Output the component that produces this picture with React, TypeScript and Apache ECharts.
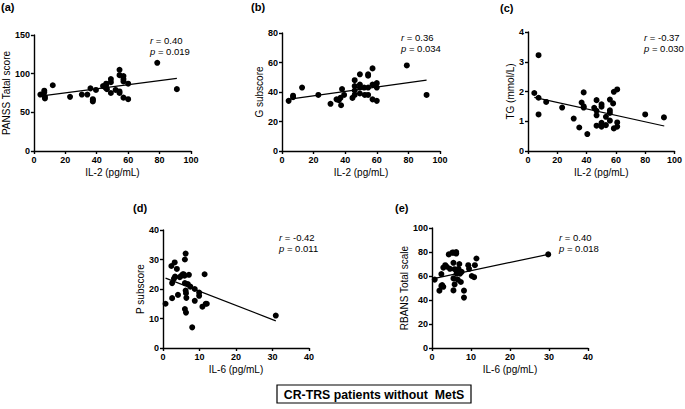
import React, { useEffect, useRef } from "react";
import * as echarts from "echarts";

// Panel (a): IL-2 vs PANSS total score
const il2A = [4.1, 6.6, 6.6, 7, 7, 12, 23, 30.5, 34, 36, 37.5, 37.5, 37.5, 39.5, 44, 45.5, 46, 46.5, 46, 49, 49, 49, 52, 54.5, 54.5, 54.5, 54.5, 57, 57, 57, 57, 60, 60, 78.5, 91];
const panssA = [73, 78, 76, 70, 68, 85, 70, 73, 73, 81, 67, 64, 66, 79, 84, 82, 87, 80, 85, 93, 89, 75, 79, 105, 98, 77, 75, 97, 93, 90, 69, 87, 67, 114, 80];
const fitAX = [4, 91];
const fitAY = [71, 94];

// Panel (b): IL-2 vs G subscore
const il2B = [4.2, 7, 7, 12.7, 23, 30.7, 34.5, 36, 37, 37.4, 38, 39.3, 44.6, 46, 46, 46, 46, 49.3, 49.3, 49.3, 49.3, 52, 52.4, 54.5, 54.5, 54.5, 54.5, 57.3, 57.3, 57.3, 60, 60, 60, 79, 91.5];
const gB = [34, 36.5, 37.5, 43, 38, 32, 35, 34.5, 36, 31, 42, 38, 36, 48, 44, 41, 38, 52, 45, 43, 39, 43, 38, 51, 52, 43, 38, 56, 45, 35, 46, 43, 34, 58, 38];
const fitBX = [3.8, 91.5];
const fitBY = [35, 48];

// Panel (c): IL-2 vs TG
const il2C = [4.3, 7.2, 7.2, 7.2, 12.4, 23.3, 31.2, 35, 36.6, 38, 38, 38, 40.5, 45.2, 46.8, 46.8, 46.8, 46.8, 50.2, 50.2, 50.2, 50.2, 50.2, 53.2, 53.2, 55.9, 55.9, 55.9, 55.9, 58.1, 58.6, 58.6, 60.9, 60.9, 60.9, 80, 92.8];
const tgC = [1.95, 3.22, 1.79, 1.23, 1.65, 1.46, 1.09, 0.79, 1.63, 1.97, 1.46, 1.5, 0.57, 1.45, 1.71, 1.35, 1.2, 0.85, 1.57, 1.49, 0.95, 0.87, 0.82, 1.15, 0.87, 1.73, 1.37, 1.28, 1.02, 1.6, 1.99, 0.76, 2.07, 0.96, 0.82, 1.23, 1.13];
const fitCX = [4.3, 93];
const fitCY = [1.8, 0.84];

// Panel (d): IL-6 vs P subscore
const il6D = [0.7, 2.3, 2.5, 2.5, 3.0, 3.3, 3.2, 3.8, 4.1, 4.6, 5.0, 5.4, 5.7, 5.9, 6.2, 6.0, 6.0, 6.2, 6.3, 6.4, 6.0, 6.3, 6.8, 7.1, 7.5, 8.0, 8.7, 8.7, 9.9, 9.9, 10.8, 11.4, 11.7, 12.0, 30.9];
const pD = [15, 27.8, 22, 16.9, 23.5, 24.2, 29, 26.8, 18, 24, 24.5, 25, 25, 24.5, 32, 30, 22, 19.5, 18.6, 17, 13.2, 12, 21.7, 24.8, 20.8, 7, 20, 16, 18.8, 17.7, 14, 25, 15, 15, 11];
const fitDX = [0.7, 30.9];
const fitDY = [23.7, 9.2];

// Panel (e): IL-6 vs RBANS total scale
const il6E = [0.7, 1.9, 2.4, 2.6, 2.4, 2.9, 2.9, 3.4, 3.8, 4.3, 4.6, 5.2, 5.5, 5.5, 5.5, 5.5, 5.8, 6.2, 6.2, 5.8, 6.3, 6.5, 6.8, 6.6, 7.0, 7.2, 7.6, 7.4, 8.2, 8.2, 9.3, 9.5, 10.2, 10.8, 11.0, 11.4, 29.8];
const rbansE = [57, 47.8, 51.7, 52.5, 61.6, 51, 67, 69, 67.7, 78, 66, 79.5, 79.5, 71, 58, 48, 65.7, 80, 78.7, 53, 62, 64, 66, 57, 70, 62, 63.5, 55, 47.8, 42, 69, 66, 60, 59, 69, 74.6, 78];
const fitEX = [0.7, 29.8];
const fitEY = [58, 78];

const panelLabels = ["(a)", "(b)", "(c)", "(d)", "(e)"];
const rValues = ["0.40", "0.36", "-0.37", "-0.42", "0.40"];
const pValues = ["0.019", "0.034", "0.030", "0.011", "0.018"];
const xNames = ["IL-2 (pg/mL)", "IL-2 (pg/mL)", "IL-2 (pg/mL)", "IL-6 (pg/mL)", "IL-6 (pg/mL)"];
const yNames = ["PANSS Tatal score", "G subscore", "TG (mmol/L)", "P subscore", "RBANS Total scale"];
const xMax = [100, 100, 100, 40, 40];
const xInterval = [20, 20, 20, 10, 10];
const yMax = [150, 80, 4, 40, 100];
const yInterval = [50, 20, 1, 10, 20];
const boxTitle = "CR-TRS patients without  MetS";

const FONT = "'Liberation Sans', Arial, sans-serif";

const zip = (xs: number[], ys: number[]) => xs.map((x, i) => [x, ys[i]]);

export default function App() {
  const ref = useRef<HTMLDivElement>(null);
  useEffect(() => {
    if (!ref.current) return;
    const chart = echarts.init(ref.current, undefined, { renderer: "svg" });

    const grids = [
      { left: 30, top: 35, width: 161, height: 116 },
      { left: 282, top: 33, width: 158, height: 118 },
      { left: 528, top: 32, width: 147, height: 119 },
      { left: 163, top: 230, width: 146, height: 118 },
      { left: 432, top: 228, width: 156, height: 120 },
    ];
    const yGaps = [19, 15, 12, 15, 19];
    const labelPos = [
      [1, 7], [251, 7], [500, 8], [133, 208], [395, 208],
    ];
    const rpPos = [
      [150, 40], [401, 37], [644, 37], [279, 237], [559, 237],
    ];

    const pts = [
      zip(il2A, panssA),
      zip(il2B, gB),
      zip(il2C, tgC),
      zip(il6D, pD),
      zip(il6E, rbansE),
    ];
    const fits = [
      zip(fitAX, fitAY),
      zip(fitBX, fitBY),
      zip(fitCX, fitCY),
      zip(fitDX, fitDY),
      zip(fitEX, fitEY),
    ];

    const axisCommon = {
      axisLine: { show: true, lineStyle: { color: "#000", width: 1.4 } },
      axisTick: { show: true, inside: false, length: 3, lineStyle: { color: "#000", width: 1.4 } },
      splitLine: { show: false },
      axisLabel: { color: "#000", fontSize: 9, fontWeight: "bold", fontFamily: FONT, margin: 4 },
    };

    const xAxis = grids.map((_, i) => ({
      ...axisCommon,
      type: "value",
      gridIndex: i,
      min: 0,
      max: xMax[i],
      interval: xInterval[i],
      name: xNames[i],
      nameLocation: "middle",
      nameGap: 16,
      nameTextStyle: { color: "#000", fontSize: 10, fontFamily: FONT },
    }));
    const yAxis = grids.map((_, i) => ({
      ...axisCommon,
      type: "value",
      gridIndex: i,
      min: 0,
      max: yMax[i],
      interval: yInterval[i],
      name: yNames[i],
      nameLocation: "middle",
      nameGap: yGaps[i],
      nameTextStyle: { color: "#000", fontSize: 10, fontFamily: FONT },
    }));

    const series: any[] = [];
    pts.forEach((d, i) => {
      series.push({
        type: "scatter",
        xAxisIndex: i,
        yAxisIndex: i,
        data: d,
        symbol: "circle",
        symbolSize: 6,
        itemStyle: { color: "#000", opacity: 1 },
      });
      series.push({
        type: "line",
        xAxisIndex: i,
        yAxisIndex: i,
        data: fits[i],
        symbol: "none",
        lineStyle: { color: "#000", width: 1.2 },
      });
    });

    const graphic: any[] = [];
    panelLabels.forEach((t, i) => {
      graphic.push({
        type: "text",
        x: labelPos[i][0],
        y: labelPos[i][1],
        style: {
          text: t,
          fontSize: 11,
          fontWeight: "bold",
          fontFamily: FONT,
          fill: "#000",
          align: "left",
          verticalAlign: "middle",
        },
      });
      graphic.push({
        type: "text",
        x: rpPos[i][0],
        y: rpPos[i][1] + 5.5,
        style: {
          text: `{i|r} = ${rValues[i]}\n{i|p} = ${pValues[i]}`,
          rich: { i: { fontStyle: "italic", fontSize: 9.5, fontFamily: FONT, fill: "#000" } },
          fontSize: 9.5,
          lineHeight: 11,
          fontFamily: FONT,
          fill: "#000",
          align: "left",
          verticalAlign: "middle",
        },
      });
    });
    graphic.push({
      type: "rect",
      shape: { x: 277, y: 385, width: 194, height: 18 },
      style: { fill: "#fff", stroke: "#000", lineWidth: 1.2 },
    });
    graphic.push({
      type: "text",
      x: 374,
      y: 394.5,
      style: {
        text: boxTitle,
        fontSize: 12.3,
        fontWeight: "bold",
        fontFamily: FONT,
        fill: "#000",
        align: "center",
        verticalAlign: "middle",
      },
    });

    chart.setOption({
      animation: false,
      backgroundColor: "#fff",
      grid: grids.map((g) => ({ ...g, containLabel: false })),
      xAxis,
      yAxis,
      series,
      graphic,
    });
    return () => chart.dispose();
  }, []);
  return (
    <div
      ref={ref}
      style={{ position: "fixed", left: 0, top: 0, width: 685, height: 409, background: "#fff" }}
    />
  );
}
